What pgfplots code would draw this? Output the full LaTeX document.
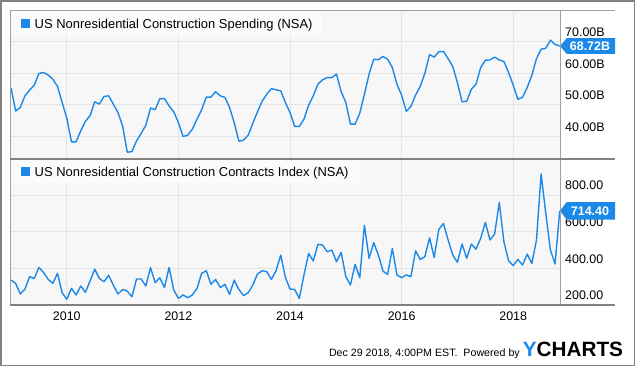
\documentclass[border=0pt]{standalone}
\usepackage{fontspec}
\setmainfont{Liberation Sans}
\usepackage{pgfplots}
\pgfplotsset{compat=1.18}
\usepackage{pgfplotstable}
\definecolor{ybl}{RGB}{28,137,232}
\definecolor{plotbg}{RGB}{247,247,247}
\definecolor{gridc}{RGB}{228,228,228}
\definecolor{legbg}{RGB}{251,251,251}
\definecolor{framec}{RGB}{160,160,160}
\definecolor{framed}{RGB}{130,130,130}
\newcommand\fs[1]{\fontsize{#1}{#1}\selectfont}

\pgfplotstableread{
idx val
0 55.5
1 48.1
2 49.2
3 52.9
4 54.7
5 56.3
6 60.0
7 60.3
8 59.5
9 58.2
10 55.9
11 50.8
12 45.8
13 38.3
14 38.3
15 41.8
16 44.8
17 46.6
18 51.0
19 50.3
20 52.7
21 52.9
22 50.3
23 47.6
24 43.4
25 35.0
26 35.2
27 38.6
28 41.0
29 43.6
30 49.0
31 48.5
32 52.0
33 52.0
34 49.7
35 47.8
36 44.4
37 40.0
38 40.4
39 42.3
40 45.5
41 48.5
42 52.5
43 52.5
44 54.2
45 52.9
46 52.4
47 49.2
48 44.4
49 38.5
50 38.8
51 40.4
52 44.2
53 47.8
54 51.2
55 53.4
56 55.2
57 54.8
58 54.5
59 50.8
60 47.6
61 43.2
62 43.2
63 45.5
64 49.9
65 52.9
66 56.6
67 58.0
68 58.7
69 58.7
70 59.8
71 54.2
72 50.8
73 43.9
74 43.9
75 47.4
76 53.4
77 59.8
78 64.5
79 64.4
80 65.4
81 64.5
82 61.9
83 56.6
84 53.1
85 48.0
86 49.5
87 53.1
88 55.9
89 60.1
90 66.0
91 65.2
92 66.9
93 67.0
94 64.7
95 62.2
96 57.1
97 51.0
98 51.2
99 55.0
100 56.6
101 61.9
102 64.2
103 64.3
104 65.2
105 64.3
106 63.8
107 60.3
108 56.3
109 51.8
110 52.4
111 55.5
112 59.4
113 64.7
114 67.7
115 68.0
116 70.6
117 69.2
118 68.72
}\spend

\pgfplotstableread{
idx val
0 336
1 318
2 260
3 287
4 355
5 345
6 405
7 378
8 340
9 318
10 373
11 267
12 231
13 291
14 255
15 304
16 269
17 331
18 396
19 345
20 327
21 362
22 309
23 260
24 285
25 276
26 245
27 342
28 342
29 304
30 404
31 322
32 349
33 295
34 405
35 282
36 236
37 255
38 240
39 255
40 290
41 373
42 387
43 313
44 340
45 295
46 313
47 258
48 336
49 285
50 251
51 267
52 309
53 369
54 387
55 382
56 340
57 387
58 473
59 351
60 287
61 285
62 236
63 364
64 482
65 440
66 531
67 527
68 491
69 500
70 436
71 487
72 355
73 309
74 422
75 349
76 636
77 455
78 540
79 473
80 385
81 367
82 509
83 364
84 349
85 364
86 355
87 496
88 449
89 464
90 567
91 460
92 613
93 645
94 555
95 473
96 433
97 533
98 455
99 533
100 505
101 564
102 651
103 555
104 587
105 760
106 545
107 442
108 415
109 449
110 418
111 478
112 427
113 555
114 915
115 700
116 500
117 424
118 714.4
}\contr

\begin{document}
\begin{tikzpicture}
\useasboundingbox (0,0) rectangle (635bp,-366bp);
\pgfplotsset{panel/.style={
  scale only axis, width=549bp, xmin=0, xmax=118.06,
  axis line style={draw=none}, major tick length=0pt,
  axis background/.style={fill=plotbg},
  xtick={12,36,60,84,108},
  grid=major, major grid style={draw=gridc, line width=1bp},
  yticklabel pos=right,
  yticklabel style={anchor=west, inner sep=0pt, xshift=5bp, yshift=9.5bp, font=\fs{12.5}},
  clip=false,
}}
% top panel
\begin{axis}[panel, at={(11bp,-158.5bp)}, anchor=south west, height=148bp,
  ymin=33, ymax=80, ytick={40,50,60,70},
  yticklabels={40.00B,50.00B,60.00B,70.00B}, xticklabels={}]
\addplot[ybl, line width=1.4bp, no marks, line join=round] table[x=idx,y=val]{\spend};
\fill[ybl] (axis cs:118.06,68.72) -- ++(6.7bp,7.8bp) -- ++(48.3bp,0bp) -- ++(0bp,-15.6bp) -- ++(-48.3bp,0bp) -- cycle;
\node[white, font=\fs{12.5}\bfseries, xshift=30bp] at (axis cs:118.06,68.72) {68.72B};
\end{axis}
% bottom panel
\begin{axis}[panel, at={(11bp,-305bp)}, anchor=south west, height=146.5bp,
  ymin=200, ymax=1000, ytick={200,400,600,800},
  yticklabels={200.00,400.00,600.00,800.00},
  xticklabels={2010,2012,2014,2016,2018},
  xticklabel style={anchor=base, inner sep=0pt, yshift=-15bp, font=\fs{12.5}}]
\addplot[ybl, line width=1.4bp, no marks, line join=round] table[x=idx,y=val]{\contr};
\fill[ybl] (axis cs:118.06,714.4) -- ++(6.7bp,8.8bp) -- ++(48.3bp,0bp) -- ++(0bp,-17.6bp) -- ++(-48.3bp,0bp) -- cycle;
\node[white, font=\fs{12.5}\bfseries, xshift=30bp] at (axis cs:118.06,714.4) {714.40};
\end{axis}
% legends
\fill[legbg] (11bp,-11bp) rectangle (322bp,-34.5bp);
\fill[ybl] (21bp,-19.3bp) rectangle (29.5bp,-27.8bp);
\node[anchor=base west, inner sep=0pt, font=\fs{13}] at (34.5bp,-28.3bp) {US Nonresidential Construction Spending (NSA)};
\fill[legbg] (11bp,-159.5bp) rectangle (360bp,-183.3bp);
\fill[ybl] (21bp,-167.3bp) rectangle (29.5bp,-175.8bp);
\node[anchor=base west, inner sep=0pt, font=\fs{13}] at (34.5bp,-176bp) {US Nonresidential Construction Contracts Index (NSA)};
% frames
\draw[framec, line width=1bp] (10.5bp,-305bp) -- (10.5bp,-10.5bp) -- (615bp,-10.5bp);
\draw[framec, line width=1bp] (560bp,-10.5bp) -- (560bp,-305bp);
\draw[framed, line width=1.8bp] (10bp,-158.7bp) -- (615bp,-158.7bp);
\draw[framed, line width=1.8bp] (10bp,-305bp) -- (615bp,-305bp);
\draw[framed, line width=1.5bp] (0.75bp,-0.75bp) rectangle (634.25bp,-365.25bp);
% footer
\node[anchor=base east, inner sep=0pt, font=\fs{10.7}] at (520bp,-356.7bp) {Dec 29 2018, 4:00PM EST.\ \ Powered by};
\node[anchor=base west, inner sep=0pt, font=\fs{20.8}\bfseries] at (522.7bp,-356.7bp) {\textcolor{ybl}{Y}CHARTS};
\end{tikzpicture}
\end{document}
